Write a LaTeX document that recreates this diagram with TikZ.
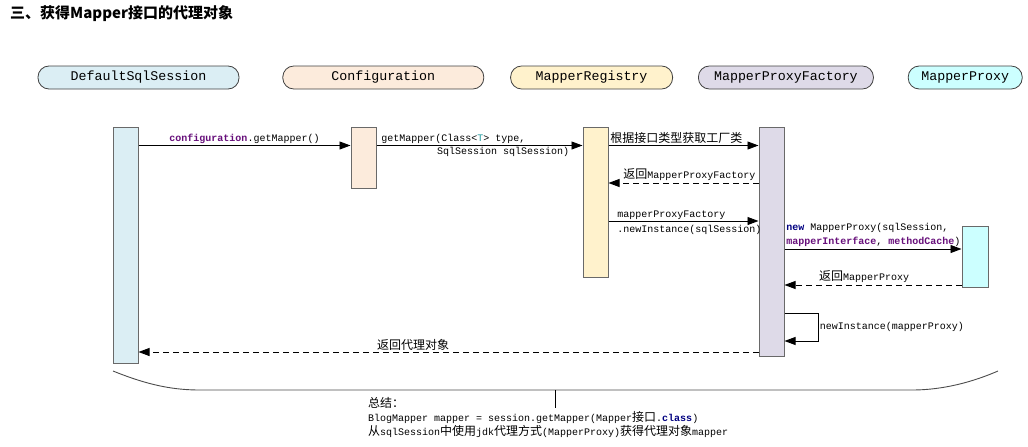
\documentclass[tikz,border=0pt]{standalone}
\usepackage{fontspec}
\setmainfont{Liberation Mono}
\newfontfamily\cjk{Noto Sans CJK SC}
\usetikzlibrary{arrows.meta, positioning, calc}
\definecolor{seqBlue}{RGB}{219, 238, 244}
\definecolor{seqPeach}{RGB}{252, 235, 220}
\definecolor{seqYellow}{RGB}{255, 242, 204}
\definecolor{seqLilac}{RGB}{222, 218, 232}
\definecolor{seqCyan}{RGB}{204, 255, 255}
\definecolor{headBorder}{RGB}{64, 64, 64}
\definecolor{barBorder}{RGB}{105, 105, 105}
\definecolor{kwPurple}{RGB}{102, 14, 122}
\definecolor{kwNavy}{RGB}{0, 0, 128}
\definecolor{tealT}{RGB}{32, 153, 157}
\newcommand{\zhtext}[1]{{\cjk\fontsize{12}{14}\selectfont #1}}

\begin{document}
\begin{tikzpicture}[
    x=1pt, y=-1pt,
    font=\fontsize{10}{14}\selectfont,
    % Cabeceras de los participantes
    head/.style={
        draw=headBorder,
        line width=0.8pt,
        rounded corners=11pt,
        minimum height=23pt,
        inner sep=0pt,
        font=\fontsize{13.3}{16}\selectfont
    },
    % Barras de activacion
    bar/.style={
        draw=barBorder,
        line width=1pt,
        minimum width=25pt,
        inner sep=0pt,
        anchor=north
    },
    % Mensajes y retornos
    msg/.style={
        -{Triangle[length=11pt, width=8pt]},
        line width=0.9pt,
        black
    },
    reply/.style={
        msg,
        dash pattern=on 6pt off 4pt
    },
    lbl/.style={
        inner sep=1.5pt,
        font=\fontsize{10}{14}\selectfont
    },
    brace/.style={
        line width=0.9pt,
        black!70
    }
]
    \useasboundingbox (0,0) rectangle (1028,447);

    % --- Titulo ---
    \node[anchor=west, inner sep=0pt] (title) at (10,14) {\cjk\bfseries\fontsize{15}{18}\selectfont 三、获得Mapper接口的代理对象};

    % --- 1. Participantes ---
    \node[head, fill=seqBlue, minimum width=201pt] (dssHead) at (138.5,77.5) {DefaultSqlSession};
    \node[head, fill=seqPeach, minimum width=201pt, right=43pt of dssHead] (cfgHead) {Configuration};
    \node[head, fill=seqYellow, minimum width=162pt, right=26pt of cfgHead] (regHead) {MapperRegistry};
    \node[head, fill=seqLilac, minimum width=175pt, right=25pt of regHead] (mpfHead) {MapperProxyFactory};
    \node[head, fill=seqCyan, minimum width=114pt, right=34pt of mpfHead] (mpHead) {MapperProxy};

    % Barras de activacion
    \node[bar, fill=seqBlue, minimum height=236pt] (dssBar) at (125.5,126.5) {};
    \node[bar, fill=seqPeach, minimum height=61pt] (cfgBar) at (363.5,126.5) {};
    \node[bar, fill=seqYellow, minimum height=150.5pt] (regBar) at (595.5,126.5) {};
    \node[bar, fill=seqLilac, minimum height=229.5pt] (mpfBar) at (771.5,126.5) {};
    \node[bar, fill=seqCyan, minimum height=61pt, minimum width=26pt] (mpBar) at (975,226) {};

    % Alturas de los mensajes
    \coordinate (m1) at (0,145.5);
    \coordinate (m2) at (0,183);
    \coordinate (m3) at (0,221);
    \coordinate (m4) at (0,249);
    \coordinate (m5) at (0,285);
    \coordinate (m6a) at (0,313);
    \coordinate (m6b) at (0,341);
    \coordinate (m7) at (0,352);
    \coordinate (loopx) at (818,0);

    % --- 2. Mensajes ---
    \draw[msg] (dssBar.east |- m1) -- node[lbl, above] {\textcolor{kwPurple}{\textbf{configuration}}.getMapper()} (cfgBar.west |- m1);

    \draw[msg] (cfgBar.east |- m1) -- (regBar.west |- m1)
        node[lbl, pos=0, above right, xshift=3pt] {getMapper(Class<\textcolor{tealT}{T}> type,}
        node[lbl, pos=0.285, below right] {SqlSession sqlSession)};

    \draw[msg] (regBar.east |- m1) -- (mpfBar.west |- m1)
        node[lbl, pos=0, above right] {\zhtext{根据接口类型获取工厂类}};

    \draw[reply] (mpfBar.west |- m2) -- node[lbl, pos=0.46, above] {\zhtext{返回}MapperProxyFactory} (regBar.east |- m2);

    \draw[msg] (regBar.east |- m3) -- (mpfBar.west |- m3)
        node[lbl, pos=0, right, align=left, xshift=7pt, yshift=-1.5pt, font=\fontsize{10}{15}\selectfont] {mapperProxyFactory\\.newInstance(sqlSession)};

    \draw[msg] (mpfBar.east |- m4) -- (mpBar.west |- m4)
        node[lbl, pos=0, above right, align=left] {\textcolor{kwNavy}{\textbf{new}} MapperProxy(sqlSession,\\\textcolor{kwPurple}{\textbf{mapperInterface}}, \textcolor{kwPurple}{\textbf{methodCache}})};

    \draw[reply] (mpBar.west |- m5) -- node[lbl, pos=0.55, above] {\zhtext{返回}MapperProxy} (mpfBar.east |- m5);

    % Llamada a si mismo
    \draw[msg] (mpfBar.east |- m6a) -- (loopx |- m6a) -- node[lbl, right] {newInstance(mapperProxy)} (loopx |- m6b) -- (mpfBar.east |- m6b);

    \draw[reply] (mpfBar.west |- m7) -- node[lbl, pos=0.557, above] {\zhtext{返回代理对象}} (dssBar.east |- m7);

    % --- 3. Resumen ---
    \coordinate (bl) at (113,371);
    \coordinate (br) at (998,371);
    \coordinate (bmid) at (555,390);
    \draw[brace] (bl) .. controls (150,386) and (175,390) .. (200,390) -- (912,390) .. controls (945,390) and (975,381) .. (br);
    \draw[line width=0.8pt] (bmid) -- ++(0,18);

    \node[lbl, anchor=north west, align=left, inner sep=0pt] (summary) at (368,397) {
        \zhtext{总结：}\\
        BlogMapper mapper = session.getMapper(Mapper\zhtext{接口}.\textcolor{kwNavy}{\textbf{class}})\\
        \zhtext{从}sqlSession\zhtext{中使用}jdk\zhtext{代理方式}(MapperProxy)\zhtext{获得代理对象}mapper
    };

\end{tikzpicture}
\end{document}
